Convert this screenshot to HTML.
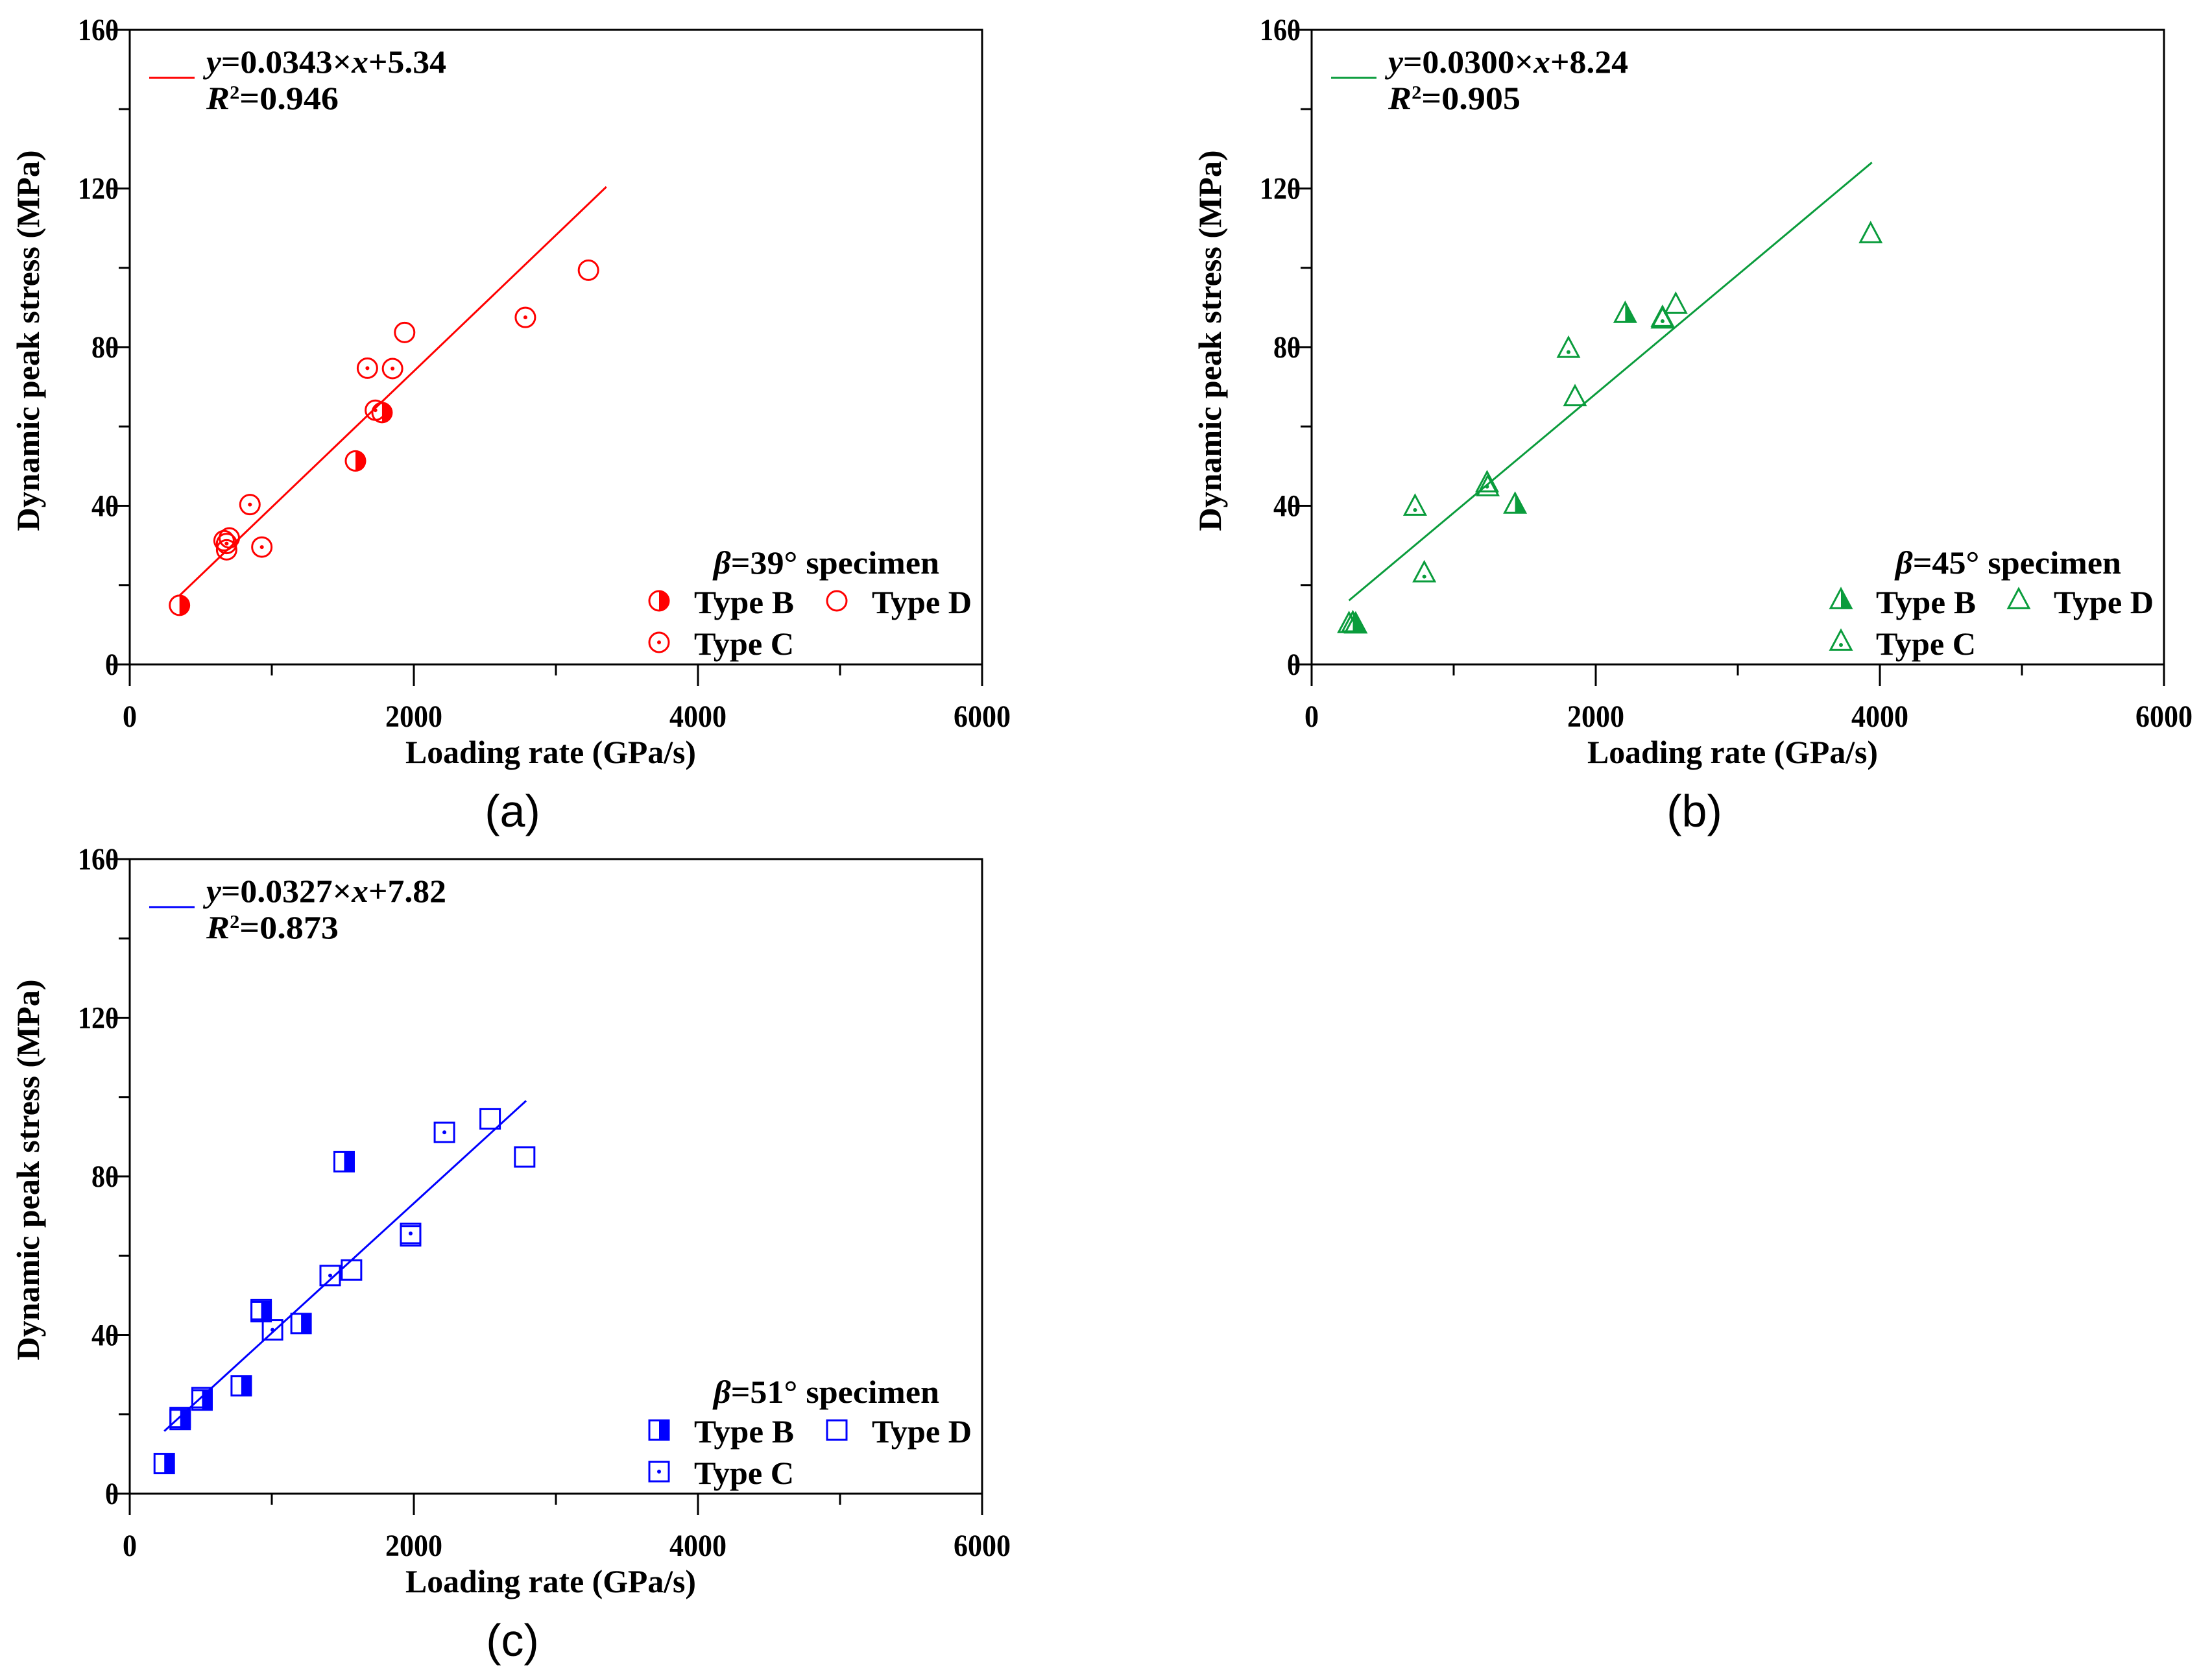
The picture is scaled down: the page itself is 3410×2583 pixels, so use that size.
<!DOCTYPE html>
<html><head><meta charset="utf-8"><style>
html,body{margin:0;padding:0;background:#fff;}
svg{display:block;}
text{font-family:"Liberation Serif",serif;font-weight:bold;fill:#000;}
</style></head><body>
<svg id="fig" width="3410" height="2583" viewBox="0 0 3410 2583" xmlns="http://www.w3.org/2000/svg"></svg>
<script>
// ---- data ----
const xTicks = [0, 2000, 4000, 6000];
const xMinor = [1000, 3000, 5000];
const yTicks = [0, 40, 80, 120, 160];
const yMinor = [20, 60, 100, 140];

// Panel a (beta = 39)
const aBx = [350, 1589, 1776];
const aBy = [14.9, 51.3, 63.5];
const aCx = [1673, 1850, 846, 930, 2785, 1729, 682];
const aCy = [74.7, 74.6, 40.3, 29.6, 87.5, 64.1, 30.5];
const aDx = [1935, 3229, 664, 701, 682];
const aDy = [83.7, 99.4, 31.2, 31.9, 28.9];
const aFit = [0.0343, 5.34, 350, 3355];

// Panel b (beta = 45)
const bBx = [2207, 1432, 310, 290];
const bBy = [88.2, 40.1, 9.9, 10.2];
const bCx = [1808, 2470, 1235, 728, 793];
const bCy = [79.4, 87.2, 45.5, 39.6, 22.8];
const bDx = [3935, 2563, 1854, 1240, 263, 2470];
const bDy = [108.3, 90.5, 67.2, 44.5, 10.0, 86.8];
const bFit = [0.0300, 8.24, 263, 3944];

// Panel c (beta = 51)
const cBx = [243, 355, 509, 785, 925, 1206, 1509];
const cBy = [7.6, 18.7, 23.6, 27.2, 45.9, 42.9, 83.7];
const cCx = [2215, 1977, 1411, 1005];
const cCy = [91.1, 65.6, 55.0, 41.3];
const cDx = [2537, 2780, 1561, 1977, 355, 509, 925];
const cDy = [94.5, 84.9, 56.4, 65.0, 19.2, 24.2, 46.4];
const cFit = [0.0327, 7.82, 243, 2790];

const NS = "http://www.w3.org/2000/svg";
const svg = document.getElementById('fig');
function mk(tag, attrs, parent, txt){
  const e = document.createElementNS(NS, tag);
  for (const k in attrs) e.setAttribute(k, attrs[k]);
  if (txt !== undefined) e.textContent = txt;
  (parent || svg).appendChild(e);
  return e;
}

const PW = 1314, PH = 978;

function marker(g, shape, kind, cx, cy, col){
  const r = 15;
  let el;
  if (shape === 'circle'){
    el = mk('circle', {cx:cx, cy:cy, r:r, fill:'none', stroke:col, 'stroke-width':3}, g);
    if (kind === 'B'){
      mk('path', {d:`M${cx},${cy-r} A${r},${r} 0 0 1 ${cx},${cy+r} Z`, fill:col}, g);
    }
  } else if (shape === 'tri'){
    const h = 30, w = 32;
    const p = `${cx},${cy-h*0.62} ${cx-w/2},${cy+h*0.38} ${cx+w/2},${cy+h*0.38}`;
    el = mk('polygon', {points:p, fill:'none', stroke:col, 'stroke-width':3, 'stroke-linejoin':'miter'}, g);
    if (kind === 'B'){
      mk('polygon', {points:`${cx},${cy-h*0.62} ${cx},${cy+h*0.38} ${cx+w/2},${cy+h*0.38}`, fill:col}, g);
    }
  } else {
    const s = 30;
    el = mk('rect', {x:cx-s/2, y:cy-s/2, width:s, height:s, fill:'none', stroke:col, 'stroke-width':3}, g);
    if (kind === 'B'){
      mk('rect', {x:cx, y:cy-s/2, width:s/2, height:s, fill:col}, g);
    }
  }
  if (kind === 'C'){
    mk('circle', {cx:cx, cy:cy + (shape==='tri'?4:0), r:3, fill:col}, g);
  }
  return el;
}

function panel(id, ox, oy, col, shape, beta, B, C, D, fit, eq, r2, label){
  const g = mk('g', {}, svg);
  
  
  const X = v => ox + v / 6000 * PW;
  const Y = v => oy + PH - v / 160 * PH;

  const fr = mk('rect', {x:ox, y:oy, width:PW, height:PH, fill:'none', stroke:'#000', 'stroke-width':3}, g);
  
  

  yTicks.forEach(v => {
    mk('line', {x1:ox-34, x2:ox, y1:Y(v), y2:Y(v), stroke:'#000', 'stroke-width':3}, g);
    const s = String(v);
    const t = mk('text', {x:ox-17, y:Y(v)+16, 'text-anchor':'end', 'font-size':48, textLength:s.length*21, lengthAdjust:'spacingAndGlyphs'}, g, s);
    
    
  });
  yMinor.forEach(v => mk('line', {x1:ox-17, x2:ox, y1:Y(v), y2:Y(v), stroke:'#000', 'stroke-width':3}, g));
  xTicks.forEach(v => {
    mk('line', {x1:X(v), x2:X(v), y1:oy+PH, y2:oy+PH+33, stroke:'#000', 'stroke-width':3}, g);
    const s = String(v);
    const t = mk('text', {x:X(v), y:oy+PH+96, 'text-anchor':'middle', 'font-size':48, textLength:s.length*22, lengthAdjust:'spacingAndGlyphs'}, g, s);
    
    
  });
  xMinor.forEach(v => mk('line', {x1:X(v), x2:X(v), y1:oy+PH, y2:oy+PH+17, stroke:'#000', 'stroke-width':3}, g));

  const xt = mk('text', {x:ox+PW/2 - 8, y:oy+PH+152, 'text-anchor':'middle', 'font-size':50, textLength:448, lengthAdjust:'spacingAndGlyphs'}, g, 'Loading rate (GPa/s)');
  
  
  const ycx = ox - 140, ycy = oy + PH/2 - 10;
  const yt = mk('text', {x:ycx, y:ycy, 'text-anchor':'middle', 'font-size':50, textLength:587, lengthAdjust:'spacingAndGlyphs', transform:`rotate(-90 ${ycx} ${ycy})`}, g, 'Dynamic peak stress (MPa)');
  
  

  const fl = mk('line', {x1:X(fit[2]), y1:Y(fit[0]*fit[2]+fit[1]), x2:X(fit[3]), y2:Y(fit[0]*fit[3]+fit[1]), stroke:col, 'stroke-width':3}, g);
  
  

  const groups = [['D', D], ['C', C], ['B', B]];
  groups.forEach(([k, arr]) => {
    arr[0].forEach((xv, i) => {
      const m = marker(g, shape, k, X(xv), Y(arr[1][i]), col);
      
      
    });
  });

  const el = mk('line', {x1:ox+30, x2:ox+100, y1:oy+74, y2:oy+74, stroke:col, 'stroke-width':3}, g);
  
  
  const et = mk('text', {x:ox+118, y:oy+66, 'font-size':50, textLength:370, lengthAdjust:'spacingAndGlyphs'}, g);
  
  
  mk('tspan', {'font-style':'italic'}, et, 'y');
  mk('tspan', {}, et, '=' + eq[0] + '×');
  mk('tspan', {'font-style':'italic'}, et, 'x');
  mk('tspan', {}, et, '+' + eq[1]);
  const rt = mk('text', {x:ox+118, y:oy+122, 'font-size':50, textLength:204, lengthAdjust:'spacingAndGlyphs'}, g);
  
  
  mk('tspan', {'font-style':'italic'}, rt, 'R');
  mk('tspan', {'font-size':28, dy:-16}, rt, '2');
  mk('tspan', {dy:16}, rt, '=' + r2);

  const lt = mk('text', {x:ox+900, y:oy+838, 'font-size':50, textLength:348, lengthAdjust:'spacingAndGlyphs'}, g);
  
  
  mk('tspan', {'font-style':'italic'}, lt, 'β');
  mk('tspan', {}, lt, '=' + beta + '° specimen');
  const items = [['B', 816, 880], ['D', 1090, 880], ['C', 816, 944]];
  items.forEach(([k, lx, ly]) => {
    const m = marker(g, shape, k, ox+lx, oy+ly, col);
    
    
    const t = mk('text', {x:ox+lx+54, y:oy+ly+19, 'font-size':50, textLength:154, lengthAdjust:'spacingAndGlyphs'}, g, 'Type ' + k);
    
    
  });

  const pl = mk('text', {x:ox+590, y:oy+1228, 'text-anchor':'middle', 'font-size':70, style:'font-family:"Liberation Sans",sans-serif;font-weight:normal'}, g, '(' + label + ')');
  
  
}

panel('a', 200, 46, '#ff0000', 'circle', '39', [aBx,aBy], [aCx,aCy], [aDx,aDy], aFit, ['0.0343','5.34'], '0.946', 'a');
panel('b', 2022, 46, '#0a9c3c', 'tri', '45', [bBx,bBy], [bCx,bCy], [bDx,bDy], bFit, ['0.0300','8.24'], '0.905', 'b');
panel('c', 200, 1324, '#0000ff', 'square', '51', [cBx,cBy], [cCx,cCy], [cDx,cDy], cFit, ['0.0327','7.82'], '0.873', 'c');
</script>
</body></html>
